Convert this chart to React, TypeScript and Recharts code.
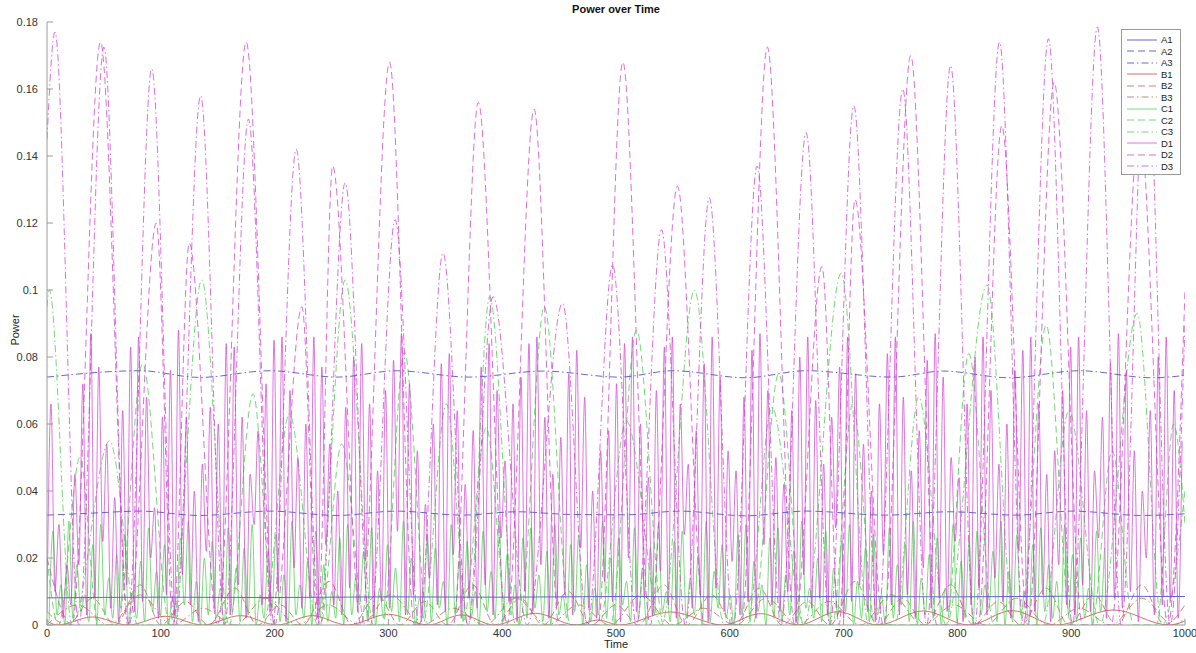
import { LineChart, Line, XAxis, YAxis } from "recharts";

const xTicks = [0, 100, 200, 300, 400, 500, 600, 700, 800, 900, 1000];
const yTicks = [0, 0.02, 0.04, 0.06, 0.08, 0.1, 0.12, 0.14, 0.16, 0.18];

// slow, nearly flat lines [time, power]
const a1Points: [number, number][] = [
  [0, 0.0081], [100, 0.0083], [200, 0.0082], [300, 0.0084], [400, 0.0083], [500, 0.0085],
  [600, 0.0084], [700, 0.0085], [800, 0.0084], [900, 0.0086], [1000, 0.0085],
];
const a2Points: [number, number][] = [
  [0, 0.0328], [40, 0.0334], [82, 0.034], [134, 0.0327], [196, 0.034], [255, 0.0327],
  [307, 0.034], [365, 0.0328], [413, 0.0338], [460, 0.033], [509, 0.0329], [556, 0.034],
  [614, 0.0326], [667, 0.034], [737, 0.0328], [793, 0.0338], [852, 0.0328], [901, 0.034],
  [962, 0.0327], [1000, 0.0332],
];
const a3Points: [number, number][] = [
  [0, 0.074], [82, 0.0759], [134, 0.0739], [196, 0.0759], [255, 0.074], [307, 0.0759],
  [371, 0.074], [436, 0.0758], [503, 0.074], [550, 0.0759], [614, 0.0738], [667, 0.0759],
  [743, 0.074], [787, 0.0758], [846, 0.0738], [907, 0.0759], [971, 0.0738], [1000, 0.0745],
];

// small red arches
const b1Points: [number, number][] = [
  [0, 0.0012], [9, 0], [40, 0.0024], [71, 0], [104, 0.0026], [137, 0], [170, 0.0028], [202, 0],
  [233, 0.0028], [264, 0], [300, 0.0032], [335, 0], [364, 0.003], [393, 0], [429, 0.0035],
  [465, 0], [484, 0.0015], [503, 0], [548, 0.0039], [594, 0], [627, 0.0034], [660, 0],
  [695, 0.004], [730, 0], [770, 0.0042], [810, 0], [848, 0.0043], [887, 0], [937, 0.0045],
  [986, 0], [1000, 0.0012],
];
const b2Points: [number, number][] = [
  [0, 0.004], [18, 0], [40, 0.008], [60, 0], [82, 0.012], [100, 0], [122, 0.007], [142, 0],
  [165, 0.011], [185, 0], [205, 0.006], [225, 0], [248, 0.013], [268, 0], [290, 0.009], [310, 0],
  [332, 0.007], [352, 0], [374, 0.012], [394, 0], [416, 0.008], [436, 0], [458, 0.01], [478, 0],
  [500, 0.006], [520, 0], [542, 0.012], [562, 0], [584, 0.009], [604, 0], [626, 0.011], [646, 0],
  [668, 0.007], [688, 0], [710, 0.013], [730, 0], [752, 0.008], [772, 0], [794, 0.012], [814, 0],
  [836, 0.007], [856, 0], [878, 0.011], [898, 0], [920, 0.009], [940, 0], [962, 0.012], [982, 0],
  [1000, 0.006],
];
const b3Points: [number, number][] = [
  [0, 0], [27, 0.006], [55, 0], [82, 0.009], [110, 0], [137, 0.005], [165, 0], [192, 0.008],
  [220, 0], [247, 0.006], [275, 0], [302, 0.009], [330, 0], [357, 0.005], [385, 0], [412, 0.008],
  [440, 0], [467, 0.006], [495, 0], [522, 0.009], [550, 0], [577, 0.005], [605, 0], [632, 0.008],
  [660, 0], [687, 0.007], [715, 0], [742, 0.009], [770, 0], [797, 0.006], [825, 0], [852, 0.008],
  [880, 0], [907, 0.005], [935, 0], [962, 0.008], [990, 0], [1000, 0.002],
];

// green arches
const c2Points: [number, number][] = [
  [0, 0.02], [10, 0], [29, 0.05], [45, 0], [62, 0], [84, 0.078], [108, 0], [160, 0], [181, 0.069],
  [200, 0], [240, 0], [259, 0.054], [280, 0], [295, 0], [314, 0.0815], [335, 0], [365, 0],
  [386, 0.059], [405, 0], [415, 0], [437, 0.095], [460, 0], [495, 0], [518, 0.088], [542, 0],
  [620, 0], [643, 0.075], [665, 0], [690, 0], [708, 0.066], [728, 0], [790, 0], [810, 0.081],
  [832, 0], [855, 0], [878, 0.0895], [900, 0], [918, 0], [936, 0.052], [955, 0], [975, 0],
  [990, 0.06], [1000, 0.03],
];
const c3Points: [number, number][] = [
  [0, 0.095], [2, 0.1], [22, 0], [55, 0.055], [80, 0], [110, 0], [136, 0.103], [160, 0], [190, 0],
  [213, 0.063], [238, 0], [262, 0.103], [287, 0], [330, 0], [351, 0.066], [370, 0], [389, 0.098],
  [412, 0], [485, 0], [509, 0.061], [540, 0], [569, 0.1], [595, 0], [615, 0], [637, 0.065],
  [665, 0], [698, 0.105], [722, 0], [745, 0], [766, 0.068], [790, 0], [826, 0.1015], [850, 0],
  [875, 0], [898, 0.064], [925, 0], [958, 0.093], [980, 0], [1000, 0.04],
];

// big magenta arches
const d2Points: [number, number][] = [
  [0, 0.02], [22, 0], [47, 0.174], [72, 0], [96, 0.12], [111, 0], [125, 0.114], [150, 0],
  [175, 0.174], [200, 0], [224, 0.095], [238, 0], [251, 0.137], [276, 0], [301, 0.168], [323, 0],
  [357, 0], [379, 0.156], [404, 0], [428, 0.154], [450, 0], [484, 0], [506, 0.168], [530, 0],
  [554, 0.131], [578, 0], [610, 0], [633, 0.1725], [657, 0], [681, 0.107], [696, 0], [710, 0.127],
  [735, 0], [759, 0.17], [782, 0], [818, 0], [839, 0.149], [862, 0], [885, 0.162], [910, 0],
  [935, 0], [960, 0.15], [985, 0], [1000, 0.1],
];
const d3Points: [number, number][] = [
  [0, 0.145], [7, 0.177], [28, 0], [50, 0.1725], [71, 0], [92, 0.166], [113, 0], [135, 0.158],
  [156, 0], [177, 0.151], [198, 0], [219, 0.142], [240, 0], [262, 0.132], [284, 0], [306, 0.121],
  [327, 0], [348, 0.111], [370, 0], [392, 0.098], [422, 0], [453, 0.096], [475, 0], [497, 0.1075],
  [518, 0], [540, 0.118], [561, 0], [582, 0.1275], [603, 0], [624, 0.137], [645, 0], [667, 0.147],
  [688, 0], [709, 0.155], [730, 0], [752, 0.16], [773, 0], [794, 0.167], [815, 0], [837, 0.174],
  [858, 0], [880, 0.175], [901, 0], [923, 0.1785], [944, 0], [966, 0.178], [987, 0], [1000, 0.09],
];

// fast magenta spikes, one peak and one low every 7 time units
const d1Peaks = [
  0.066, 0.03, 0.018, 0.045, 0.072, 0.087, 0.077, 0.054, 0.038, 0.064,
  0.083, 0.086, 0.068, 0.035, 0.062, 0.076, 0.088, 0.062, 0.04, 0.048,
  0.065, 0.06, 0.084, 0.083, 0.062, 0.045, 0.058, 0.072, 0.085, 0.086,
  0.07, 0.05, 0.06, 0.086, 0.077, 0.054, 0.04, 0.065, 0.08, 0.084,
  0.066, 0.046, 0.07, 0.079, 0.087, 0.072, 0.052, 0.036, 0.06, 0.078,
  0.081, 0.064, 0.042, 0.058, 0.077, 0.084, 0.07, 0.049, 0.066, 0.074,
  0.084, 0.086, 0.062, 0.045, 0.056, 0.075, 0.082, 0.068, 0.04, 0.052,
  0.058, 0.072, 0.084, 0.086, 0.06, 0.044, 0.07, 0.083, 0.086, 0.066,
  0.048, 0.058, 0.078, 0.086, 0.074, 0.052, 0.046, 0.068, 0.082, 0.087,
  0.07, 0.05, 0.042, 0.064, 0.08, 0.086, 0.067, 0.048, 0.062, 0.077,
  0.086, 0.075, 0.054, 0.04, 0.066, 0.081, 0.086, 0.068, 0.046, 0.058,
  0.079, 0.087, 0.074, 0.05, 0.044, 0.066, 0.08, 0.086, 0.07, 0.048,
  0.06, 0.076, 0.082, 0.086, 0.066, 0.045, 0.052, 0.07, 0.083, 0.086,
  0.064, 0.046, 0.062, 0.078, 0.087, 0.076, 0.052, 0.04, 0.064, 0.08,
  0.086, 0.07, 0.055,
];
const d1Lows = [
  0.004, 0.01, 0.002, 0.006, 0.018, 0.003, 0.008, 0.025, 0.005, 0.001,
  0.012, 0.004, 0.007, 0.02, 0.002, 0.009, 0.003, 0.015, 0.006, 0.001,
  0.022, 0.005, 0.008, 0.003, 0.012, 0.002, 0.03, 0.006, 0.004, 0.01,
  0.001, 0.017, 0.005, 0.008, 0.002, 0.024, 0.006, 0.003, 0.011, 0.004,
  0.019, 0.002, 0.007, 0.005, 0.028, 0.003, 0.009, 0.001, 0.014, 0.006,
  0.004, 0.021, 0.002, 0.008, 0.005, 0.012, 0.003, 0.026, 0.007, 0.001,
  0.01, 0.004, 0.018, 0.002, 0.006, 0.009, 0.003, 0.023, 0.005, 0.002,
  0.013, 0.007, 0.001, 0.02, 0.004, 0.008, 0.003, 0.016, 0.006, 0.002,
  0.027, 0.005, 0.009, 0.001, 0.011, 0.004, 0.019, 0.003, 0.007, 0.002,
  0.024, 0.006, 0.004, 0.01, 0.001, 0.015, 0.005, 0.008, 0.003, 0.029,
  0.002, 0.007, 0.012, 0.004, 0.001, 0.021, 0.006, 0.003, 0.009, 0.002,
  0.017, 0.005, 0.008, 0.004, 0.025, 0.001, 0.006, 0.011, 0.003, 0.014,
  0.007, 0.002, 0.022, 0.005, 0.004, 0.009, 0.001, 0.018, 0.006, 0.003,
  0.012, 0.004, 0.026, 0.002, 0.008, 0.005, 0.01, 0.001, 0.02, 0.003,
  0.006, 0.007, 0.002,
];

// fast green spikes
const c1Peaks = [
  0.028, 0.012, 0.031, 0.018, 0.009, 0.024, 0.03, 0.014, 0.021, 0.027,
  0.01, 0.019, 0.029, 0.016, 0.024, 0.008, 0.026, 0.031, 0.013, 0.02,
  0.025, 0.011, 0.029, 0.017, 0.023, 0.03, 0.009, 0.022, 0.027, 0.015,
  0.031, 0.012, 0.02, 0.028, 0.018, 0.01, 0.026, 0.03, 0.014, 0.022,
  0.029, 0.011, 0.024, 0.017, 0.031, 0.02, 0.008, 0.027, 0.023, 0.013,
  0.03, 0.019, 0.025, 0.01, 0.028, 0.016, 0.031, 0.021, 0.012, 0.026,
  0.029, 0.015, 0.022, 0.03, 0.009, 0.024, 0.027, 0.018, 0.011, 0.031,
  0.02, 0.026, 0.013, 0.029, 0.017, 0.023, 0.03, 0.01, 0.025, 0.028,
  0.014, 0.021, 0.031, 0.016, 0.024, 0.009, 0.027, 0.03, 0.019, 0.012,
  0.026, 0.029, 0.015, 0.022, 0.031, 0.011, 0.02, 0.028, 0.017, 0.025,
  0.03, 0.013, 0.023, 0.027, 0.009, 0.029, 0.018, 0.024, 0.031, 0.014,
  0.021, 0.026, 0.011, 0.03, 0.019, 0.025, 0.028, 0.012, 0.022, 0.031,
  0.016, 0.027, 0.01, 0.024, 0.029, 0.018, 0.013, 0.03, 0.021, 0.026,
  0.011, 0.028, 0.023, 0.017, 0.031, 0.014, 0.025, 0.029, 0.02, 0.01,
  0.027, 0.022, 0.03,
];
const c1Lows = [
  0.001, 0.003, 0, 0.002, 0.004, 0.001, 0, 0.003, 0.002, 0.005,
  0, 0.002, 0.001, 0.004, 0.003, 0, 0.002, 0.006, 0.001, 0,
  0.003, 0.002, 0, 0.004, 0.001, 0.003, 0, 0.002, 0.005, 0.001,
  0, 0.003, 0.002, 0, 0.004, 0.001, 0.002, 0, 0.003, 0.006,
  0.001, 0, 0.002, 0.004, 0.001, 0.003, 0, 0.002, 0.001, 0.005,
  0, 0.003, 0.001, 0.002, 0, 0.004, 0.002, 0.001, 0.003, 0,
  0.002, 0.005, 0.001, 0, 0.003, 0.002, 0.004, 0, 0.001, 0.003,
  0.002, 0, 0.006, 0.001, 0.002, 0, 0.003, 0.004, 0.001, 0,
  0.002, 0.003, 0, 0.001, 0.005, 0.002, 0, 0.003, 0.001, 0.004,
  0, 0.002, 0.001, 0.003, 0, 0.005, 0.002, 0.001, 0, 0.003,
  0.004, 0, 0.002, 0.001, 0.003, 0, 0.002, 0.006, 0.001, 0,
  0.003, 0.002, 0, 0.004, 0.001, 0.002, 0, 0.003, 0.005, 0.001,
  0, 0.002, 0.003, 0.001, 0, 0.004, 0.002, 0, 0.003, 0.001,
  0.002, 0, 0.004,
];

type Row = { t: number; v: number };

const toRows = (pts: [number, number][]): Row[] => pts.map(([t, v]) => ({ t, v }));

// lows and peaks alternate on a 7-unit grid
const spikeRows = (lows: number[], peaks: number[], start: number): Row[] => {
  const rows: Row[] = [];
  peaks.forEach((p, k) => {
    rows.push({ t: start + 7 * k, v: lows[k] });
    rows.push({ t: start + 7 * k + 3.5, v: p });
  });
  return rows.filter((r) => r.t <= 1000);
};

const BLUE = "#5656c8";
const RED = "#d0625a";
const BROWN = "#b86a52";
const GREEN = "#4fd04f";
const MAGENTA = "#d23cd2";
const DASH = "7 4";
const DASHDOT = "7 3 1.5 3";

const series = [
  { name: "B1", rows: toRows(b1Points), color: RED, dash: undefined, op: 0.9 },
  { name: "B2", rows: toRows(b2Points), color: BROWN, dash: DASH, op: 0.8 },
  { name: "B3", rows: toRows(b3Points), color: BROWN, dash: DASHDOT, op: 0.8 },
  { name: "C1", rows: spikeRows(c1Lows, c1Peaks, 1.75), color: GREEN, dash: undefined, op: 0.75 },
  { name: "C2", rows: toRows(c2Points), color: GREEN, dash: DASH, op: 0.8 },
  { name: "C3", rows: toRows(c3Points), color: GREEN, dash: DASHDOT, op: 0.8 },
  { name: "D1", rows: spikeRows(d1Lows, d1Peaks, 0), color: MAGENTA, dash: undefined, op: 0.7 },
  { name: "D2", rows: toRows(d2Points), color: MAGENTA, dash: DASH, op: 0.75 },
  { name: "D3", rows: toRows(d3Points), color: MAGENTA, dash: DASHDOT, op: 0.75 },
  { name: "A1", rows: toRows(a1Points), color: BLUE, dash: undefined, op: 0.9 },
  { name: "A2", rows: toRows(a2Points), color: BLUE, dash: DASH, op: 0.9 },
  { name: "A3", rows: toRows(a3Points), color: BLUE, dash: DASHDOT, op: 0.9 },
];

const legendOrder = ["A1", "A2", "A3", "B1", "B2", "B3", "C1", "C2", "C3", "D1", "D2", "D3"];

const FONT = "'Liberation Sans', Arial, Helvetica, sans-serif";
const tickStyle = { fill: "#333", fontSize: 11, fontFamily: FONT };
const AXIS = "#9a9a9a";

function PlotLegend() {
  return (
    <div
      style={{
        position: "absolute",
        left: 1121,
        top: 29,
        width: 60,
        height: 146,
        border: `1px solid ${AXIS}`,
        background: "#fff",
        boxSizing: "border-box",
        paddingTop: 4,
      }}
    >
      {legendOrder.map((n) => {
        const s = series.find((x) => x.name === n)!;
        return (
          <div key={n} style={{ height: 11.5, display: "flex", alignItems: "center" }}>
            <svg width={36} height={8} style={{ marginLeft: 3 }}>
              <line x1={2} y1={4} x2={32} y2={4} stroke={s.color} strokeOpacity={s.op} strokeDasharray={s.dash} />
            </svg>
            <span style={{ fontFamily: FONT, fontSize: 9.5, color: "#222" }}>{n}</span>
          </div>
        );
      })}
    </div>
  );
}

export default function App() {
  return (
    <div style={{ position: "absolute", left: 0, top: 0, width: 1196, height: 653, background: "#fff" }}>
      <div
        style={{
          position: "absolute",
          left: 0,
          width: 1232,
          top: 3,
          textAlign: "center",
          fontFamily: FONT,
          fontWeight: "bold",
          fontSize: 11,
          color: "#111",
        }}
      >
        Power over Time
      </div>
      <LineChart width={1196} height={653} margin={{ top: 22, right: 11, bottom: 0, left: 7 }}>
        <XAxis
          dataKey="t"
          type="number"
          domain={[0, 1000]}
          ticks={xTicks}
          allowDataOverflow
          height={28}
          tickSize={-6}
          tickMargin={10}
          tick={tickStyle}
          stroke={AXIS}
          interval={0}
        />
        <XAxis
          xAxisId="top"
          orientation="top"
          type="number"
          domain={[0, 1000]}
          ticks={xTicks}
          height={0}
          tickSize={-6}
          tickFormatter={() => ""}
          stroke={AXIS}
          interval={0}
        />
        <YAxis
          type="number"
          domain={[0, 0.18]}
          ticks={yTicks}
          allowDataOverflow
          width={40}
          tickSize={-6}
          tickMargin={15}
          tick={tickStyle}
          stroke={AXIS}
          interval={0}
        />
        <YAxis
          yAxisId="right"
          orientation="right"
          type="number"
          domain={[0, 0.18]}
          ticks={yTicks}
          width={0}
          tickSize={-6}
          tickFormatter={() => ""}
          stroke={AXIS}
          interval={0}
        />
        {series.map((s) => (
          <Line
            key={s.name}
            data={s.rows}
            dataKey="v"
            name={s.name}
            type="monotone"
            stroke={s.color}
            strokeOpacity={s.op}
            strokeWidth={1}
            strokeDasharray={s.dash}
            dot={false}
            activeDot={false}
            isAnimationActive={false}
          />
        ))}
      </LineChart>
      <div
        style={{
          position: "absolute",
          left: 15,
          top: 330,
          transform: "translate(-50%, -50%) rotate(-90deg)",
          fontFamily: FONT,
          fontSize: 11,
          color: "#222",
        }}
      >
        Power
      </div>
      <div
        style={{
          position: "absolute",
          left: 0,
          width: 1232,
          top: 638,
          textAlign: "center",
          fontFamily: FONT,
          fontSize: 11,
          color: "#222",
        }}
      >
        Time
      </div>
      <PlotLegend />
    </div>
  );
}
